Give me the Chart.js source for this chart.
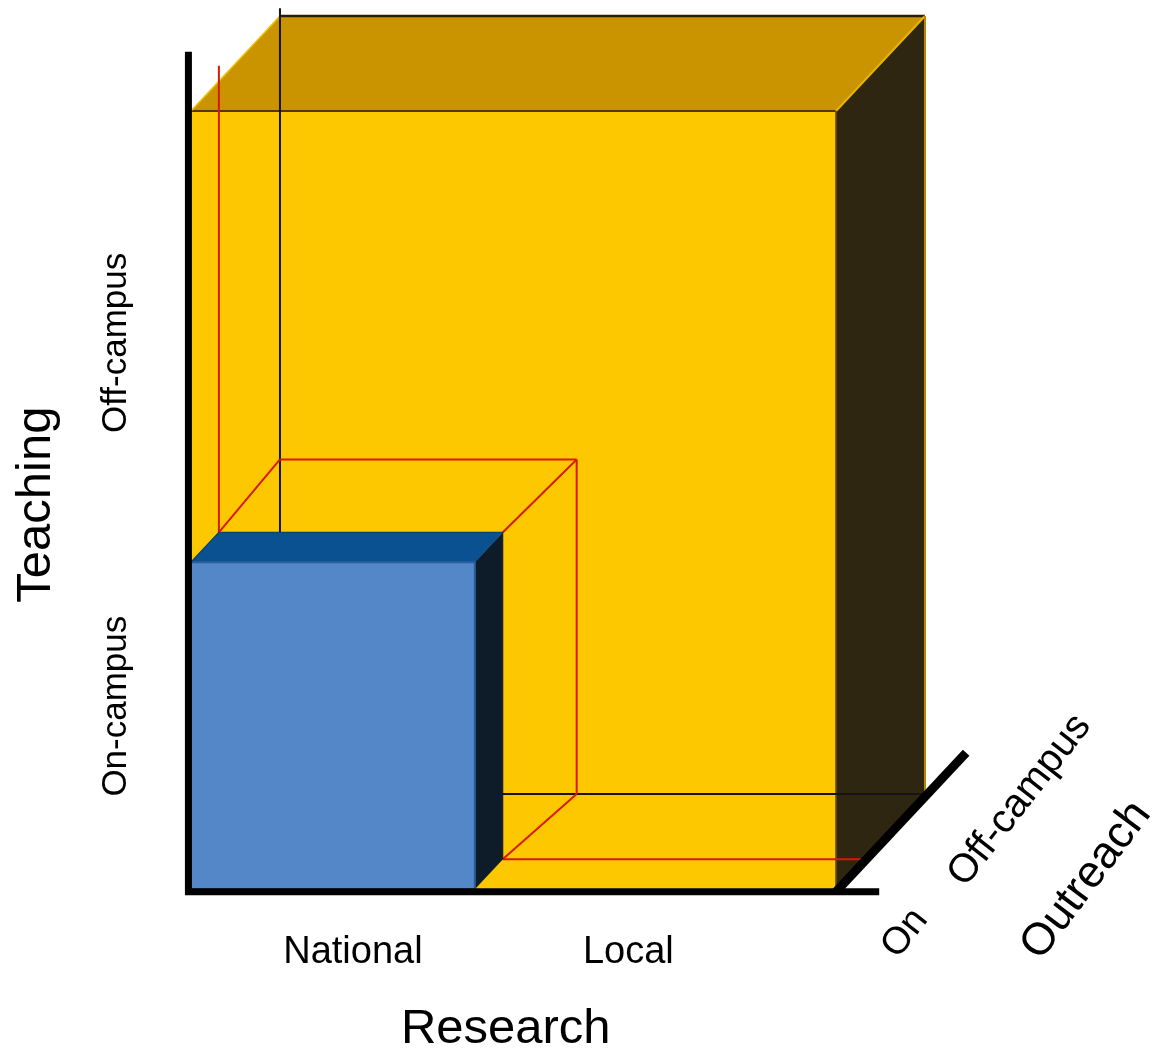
<!DOCTYPE html>
<html>
<head>
<meta charset="utf-8">
<script src="https://cdn.jsdelivr.net/npm/chart.js@4.4.1/dist/chart.umd.min.js"></script>
<style>
  html, body { margin: 0; padding: 0; background: #ffffff; }
  #wrap { width: 1162px; height: 1057px; }
  canvas { display: block; }
</style>
</head>
<body>
<div id="wrap"><canvas id="cube" width="1162" height="1057"></canvas></div>
<script>
// Dimensions of the mission space and their categories
const axisTitles   = ['Research', 'Teaching', 'Outreach'];
const researchCats = ['National', 'Local'];
const teachingCats = ['On-campus', 'Off-campus'];
const outreachCats = ['On', 'Off-campus'];

// Whole space (yellow box): extents on research / teaching / outreach
const spaceResearch = [0, 100];
const spaceTeaching = [0, 100];
const spaceOutreach = [0, 67];

// Core block (national research, on-campus teaching, on-campus outreach)
const coreResearch = [0, 44];
const coreTeaching = [0, 42];
const coreOutreach = [0, 21];

// Far face of the core's projection toward off-campus outreach
const projResearch = [0, 46];
const projTeaching = [0, 43];

// Reach of the drawn axes
const researchAxisEnd = 106.7;
const teachingAxisEnd = 107.6;
const outreachAxisEnd = 98;

// ---- oblique projection: outreach runs up and to the right ----
const W = 1162, H = 1057;
const ORIGIN = { x: 191, y: 889 };      // where research = teaching = 0
const R_PX = 6.45, T_PX = 7.78;         // pixels per unit
const DEPTH = { dx: 1.328, dy: 1.418 }; // pixel shift per outreach unit

function proj(r, t, d) {
  return { x: r + d * DEPTH.dx / R_PX, y: t + d * DEPTH.dy / T_PX };
}

const layers = [];
function face(corners, fill) {
  const pts = corners.map(c => proj(c[0], c[1], c[2]));
  pts.push(pts[0]);
  layers.push({ data: pts, fill: 'shape', backgroundColor: fill,
                borderColor: fill, borderWidth: 0.5 });
}
function line(corners, color, width) {
  layers.push({ data: corners.map(c => proj(c[0], c[1], c[2])), fill: false,
                borderColor: color, borderWidth: width, borderCapStyle: 'butt' });
}

// Box faces seen from the front, the top and the right
function boxFaces([r0, r1], [t0, t1], [d0, d1]) {
  return {
    front: [[r0, t0, d0], [r1, t0, d0], [r1, t1, d0], [r0, t1, d0]],
    top:   [[r0, t1, d0], [r1, t1, d0], [r1, t1, d1], [r0, t1, d1]],
    right: [[r1, t0, d0], [r1, t1, d0], [r1, t1, d1], [r1, t0, d1]]
  };
}

// Yellow space
const sp = boxFaces(spaceResearch, spaceTeaching, spaceOutreach);
face(sp.front, '#FEC800');
face(sp.top, '#C99400');
face(sp.right, '#2E2610');
{
  const [r0, r1] = spaceResearch, [, t1] = spaceTeaching, [d0, d1] = spaceOutreach;
  line([[r0, t1, d0], [r1, t1, d0]], '#4d3b00', 2);
  line([[r0, t1, d1], [r1, t1, d1]], '#2a2000', 2.5);
  line([[r0, t1, d0], [r0, t1, d1]], '#F2C200', 1.5);
  line([[r1, t1, d0], [r1, t1, d1]], '#E8B400', 2);
  line([[r1, 0, d0], [r1, t1, d0]], '#6b5200', 1.5);
  line([[r1, 0, d1], [r1, t1, d1]], '#B58800', 2);
}

// Back edges of the space (black)
line([[0, 0, spaceOutreach[1]], [0, 101, spaceOutreach[1]]], '#151515', 2);
line([[0, 0, spaceOutreach[1]], [spaceResearch[1], 0, spaceOutreach[1]]], '#151515', 2);

// Red outline of the core's projection toward off-campus outreach
{
  const [r0, r1] = coreResearch, [, t1] = coreTeaching;
  const [, pr1] = projResearch, [, pt1] = projTeaching;
  const dOn = coreOutreach[1], dOff = spaceOutreach[1];
  const red = '#D81A04';
  line([[r0, t1, dOn], [r0, 102, dOn]], red, 2);
  line([[r1, 0, dOn], [spaceResearch[1], 0, dOn]], red, 2);
  line([[r0, pt1, dOff], [pr1, pt1, dOff]], red, 2);
  line([[r0, t1, dOn], [r0, pt1, dOff]], red, 2);
  line([[r1, t1, dOn], [pr1, pt1, dOff]], red, 2);
  line([[pr1, 0, dOff], [pr1, pt1, dOff]], red, 2);
  line([[r1, 0, dOn], [pr1, 0, dOff]], red, 2);
}

// Blue core block
const core = boxFaces(coreResearch, coreTeaching, coreOutreach);
face(core.right, '#0E1B28');
face(core.top, '#0A5191');
face(core.front, '#5387C7');
line(core.front.concat([core.front[0]]), '#2A5E9C', 2);
line([core.top[2], core.top[3], core.top[0]], '#0B4478', 1.5);

// Axes
const ax = -0.4, at = -0.35;
line([[ax, teachingAxisEnd, 0], [ax, at, 0], [researchAxisEnd, at, 0]], '#000000', 7);
line([[spaceResearch[1], at, 0], [spaceResearch[1], at, outreachAxisEnd]], '#000000', 9);

const datasets = layers.map((l, i) => Object.assign({
  showLine: true, pointRadius: 0, pointHoverRadius: 0, tension: 0,
  clip: false, borderJoinStyle: 'miter', order: layers.length - i
}, l));

// Text placement in chart units (research, teaching)
const FONT = '"Liberation Sans", Arial, Helvetica, sans-serif';
const labelSpots = [
  { text: researchCats[0], r: 25.1,  t: -8.2,  size: 38, angle: 0 },
  { text: researchCats[1], r: 67.8,  t: -8.2,  size: 38, angle: 0 },
  { text: axisTitles[0],   r: 48.8,  t: -18.1, size: 49, angle: 0 },
  { text: teachingCats[0], r: -11.5, t: 23.5,  size: 35, angle: -90 },
  { text: teachingCats[1], r: -11.5, t: 70.2,  size: 35, angle: -90 },
  { text: axisTitles[1],   r: -23.9, t: 49.4,  size: 49, angle: -90 },
  { text: outreachCats[0], r: 110.7, t: -5.7,  size: 38, angle: -52 },
  { text: outreachCats[1], r: 128.5, t: 11.4,  size: 40, angle: -52 },
  { text: axisTitles[2],   r: 138.8, t: 1.1,   size: 45, angle: -53 }
];

const labelPlugin = {
  id: 'dimensionLabels',
  afterDraw(chart) {
    const { ctx, scales: { x, y } } = chart;
    labelSpots.forEach(s => {
      ctx.save();
      ctx.translate(x.getPixelForValue(s.r), y.getPixelForValue(s.t));
      ctx.rotate(s.angle * Math.PI / 180);
      ctx.font = s.size + 'px ' + FONT;
      ctx.fillStyle = '#000000';
      ctx.textAlign = 'center';
      ctx.textBaseline = 'middle';
      ctx.fillText(s.text, 0, 0);
      ctx.restore();
    });
  }
};

new Chart(document.getElementById('cube'), {
  type: 'scatter',
  data: { datasets },
  options: {
    responsive: false,
    devicePixelRatio: 1,
    animation: false,
    layout: { padding: 0 },
    plugins: { legend: { display: false }, tooltip: { enabled: false } },
    events: [],
    scales: {
      x: { type: 'linear', display: false,
           min: -ORIGIN.x / R_PX, max: (W - ORIGIN.x) / R_PX },
      y: { type: 'linear', display: false,
           min: -(H - ORIGIN.y) / T_PX, max: ORIGIN.y / T_PX }
    }
  },
  plugins: [labelPlugin]
});
</script>
</body>
</html>
